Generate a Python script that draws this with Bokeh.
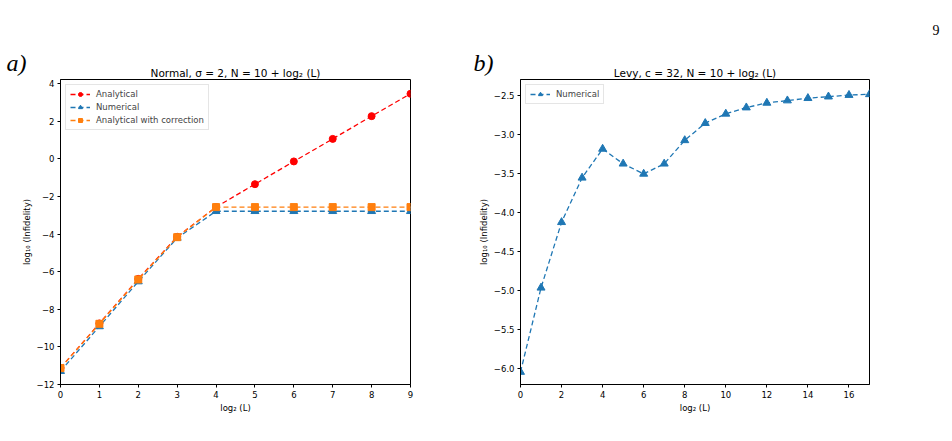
from bokeh.plotting import figure
from bokeh.layouts import row
from bokeh.models import Range1d, FixedTicker, CustomJSTickFormatter, Legend, Title
from bokeh.embed import file_html
from bokeh.resources import INLINE

# ---- data ----
x_a = [0, 1, 2, 3, 4, 5, 6, 7, 8, 9]
analytical = [-11.12, -8.75, -6.38, -4.14, -2.56, -1.34, -0.13, 1.07, 2.28, 3.47]
numerical_a = [-11.29, -8.91, -6.52, -4.20, -2.78, -2.78, -2.78, -2.78, -2.78, -2.78]
corrected = [-11.13, -8.77, -6.41, -4.16, -2.56, -2.56, -2.56, -2.56, -2.56, -2.56]

x_b = list(range(18))
numerical_b = [-6.05, -4.97, -4.13, -3.56, -3.19, -3.38, -3.51, -3.38, -3.08, -2.86,
               -2.74, -2.66, -2.60, -2.57, -2.54, -2.52, -2.50, -2.49]

title_a = "Normal, σ = 2, N = 10 + log₂ (L)"
title_b = "Levy, c = 32, N = 10 + log₂ (L)"
xlabel = "log₂ (L)"
ylabel = "log₁₀ (Infidelity)"

BLUE = "#1f77b4"
ORANGE = "#ff7f0e"
RED = "#ff0000"
FONT = "DejaVu Sans"
DASH = "5 3"

minus_fmt_int = CustomJSTickFormatter(code="return (tick.toFixed(0)).replace('-', '\\u2212');")
minus_fmt_1 = CustomJSTickFormatter(code="return (tick.toFixed(1)).replace('-', '\\u2212');")


def style(p, xticks, yticks, yfmt):
    p.outline_line_color = "black"
    p.outline_line_width = 1
    p.outline_line_alpha = 1
    p.xgrid.visible = False
    p.ygrid.visible = False
    p.background_fill_color = "white"
    p.border_fill_color = "white"
    for ax in (p.xaxis[0], p.yaxis[0]):
        ax.axis_line_color = "black"
        ax.major_tick_line_color = "black"
        ax.major_tick_out = 3
        ax.major_tick_in = 0
        ax.minor_tick_line_color = None
        ax.major_label_text_font = FONT
        ax.major_label_text_font_size = "8.5px"
        ax.major_label_text_color = "black"
        ax.axis_label_text_font = FONT
        ax.axis_label_text_font_size = "8.5px"
        ax.axis_label_text_font_style = "normal"
        ax.axis_label_text_color = "black"
    p.xaxis[0].ticker = FixedTicker(ticks=xticks)
    p.yaxis[0].ticker = FixedTicker(ticks=yticks)
    p.yaxis[0].formatter = yfmt
    p.xaxis[0].major_label_standoff = 3
    p.yaxis[0].major_label_standoff = 3
    p.xaxis[0].axis_label_standoff = 2
    p.yaxis[0].axis_label_standoff = 2


def main_title(text):
    return Title(text=text, align="center", standoff=2, text_font=FONT,
                 text_font_size="10.5px", text_font_style="normal", text_color="black")


def letter(text, offset):
    return Title(text=text, align="left", offset=offset, standoff=-24,
                 text_font="Liberation Serif", text_font_style="italic",
                 text_font_size="24px", text_color="black")


# ---- panel a ----
p1 = figure(width=460, height=441, output_backend="svg", toolbar_location=None,
            x_range=Range1d(0, 9), y_range=Range1d(-12, 4.23),
            x_axis_label=xlabel, y_axis_label=ylabel,
            min_border_left=60, min_border_right=50, min_border_top=79, min_border_bottom=57)
r1l = p1.line(x_a, analytical, line_color=RED, line_dash=DASH, line_width=1.3)
r1m = p1.scatter(x_a, analytical, marker="circle", size=7, fill_color=RED, line_color=RED)
r2l = p1.line(x_a, numerical_a, line_color=BLUE, line_dash=DASH, line_width=1.3)
r2m = p1.scatter(x_a, numerical_a, marker="triangle", size=8, fill_color=BLUE, line_color=BLUE)
r3l = p1.line(x_a, corrected, line_color=ORANGE, line_dash=DASH, line_width=1.3)
r3m = p1.scatter(x_a, corrected, marker="square", size=7, fill_color=ORANGE, line_color=ORANGE)
style(p1, list(range(10)), list(range(-12, 5, 2)), minus_fmt_int)
leg1 = Legend(items=[("Analytical", [r1l, r1m]), ("Numerical", [r2l, r2m]),
                     ("Analytical with correction", [r3l, r3m])],
              location="top_left")
p1.add_layout(leg1)
p1.add_layout(main_title(title_a), "above")
p1.add_layout(letter("a)", -54), "above")

# ---- panel b ----
p2 = figure(width=492, height=441, output_backend="svg", toolbar_location=None,
            x_range=Range1d(0, 17), y_range=Range1d(-6.21, -2.30),
            x_axis_label=xlabel, y_axis_label=ylabel,
            min_border_left=60, min_border_right=83, min_border_top=79, min_border_bottom=57)
s1l = p2.line(x_b, numerical_b, line_color=BLUE, line_dash=DASH, line_width=1.3)
s1m = p2.scatter(x_b, numerical_b, marker="triangle", size=8, fill_color=BLUE, line_color=BLUE)
style(p2, list(range(0, 17, 2)), [-6.0, -5.5, -5.0, -4.5, -4.0, -3.5, -3.0, -2.5], minus_fmt_1)
leg2 = Legend(items=[("Numerical", [s1l, s1m])], location="top_left")
p2.add_layout(leg2)
p2.add_layout(main_title(title_b), "above")
p2.add_layout(letter("b)", -47), "above")
p2.add_layout(Title(text="9", align="right", offset=-70, standoff=45, vertical_align="top",
                    text_font="Liberation Serif", text_font_size="14px",
                    text_font_style="normal", text_color="black"), "above")

for leg in (leg1, leg2):
    leg.label_text_font = FONT
    leg.label_text_font_size = "8.5px"
    leg.label_height = 10
    leg.glyph_height = 10
    leg.glyph_width = 20
    leg.spacing = 3
    leg.padding = 4
    leg.margin = 5
    leg.label_standoff = 6
    leg.border_line_color = "#cccccc"
    leg.border_line_width = 1
    leg.background_fill_alpha = 0.8

layout = row(p1, p2)
open("out.html", "w").write(file_html(layout, INLINE))
